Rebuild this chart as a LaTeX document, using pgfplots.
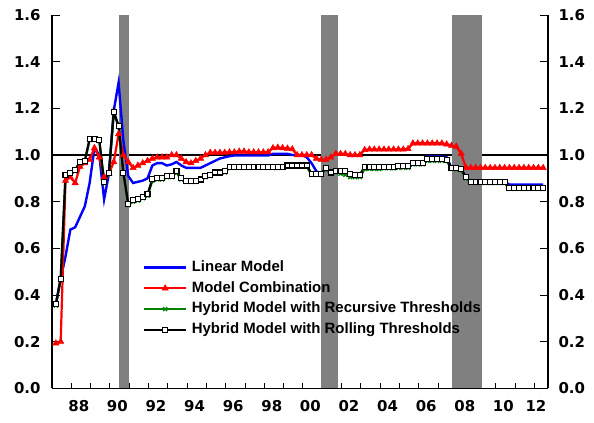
\documentclass[border=0pt]{standalone}
\usepackage{fontspec}
\setmainfont{Liberation Sans}
\newfontfamily\tickfont{DejaVu Sans}
\usepackage{pgfplots}
\usepackage{pgfplotstable}
\pgfplotsset{compat=1.18}
\definecolor{recgray}{RGB}{128,128,128}
\definecolor{dgreen}{RGB}{0,128,0}

\pgfplotstableread{
x lin comb rec roll
1987.20 0.360 0.193 0.355 0.360
1987.45 0.470 0.200 0.470 0.470
1987.70 0.565 0.890 0.910 0.914
1987.95 0.680 0.905 0.920 0.924
1988.20 0.690 0.880 0.930 0.936
1988.45 0.735 0.950 0.965 0.971
1988.70 0.780 0.965 0.970 0.976
1988.95 0.880 0.980 1.065 1.069
1989.20 1.030 1.030 1.065 1.069
1989.45 1.000 0.990 1.060 1.064
1989.70 0.810 0.905 0.880 0.886
1989.95 0.920 0.920 0.920 0.924
1990.20 1.190 0.970 1.180 1.186
1990.45 1.310 1.090 1.120 1.126
1990.70 1.060 1.000 0.920 0.924
1990.95 0.910 0.970 0.785 0.790
1991.20 0.880 0.945 0.800 0.807
1991.45 0.885 0.955 0.805 0.811
1991.70 0.890 0.965 0.815 0.821
1991.95 0.900 0.975 0.825 0.831
1992.20 0.955 0.985 0.890 0.897
1992.45 0.965 0.990 0.895 0.900
1992.70 0.965 0.990 0.895 0.900
1992.95 0.955 0.990 0.905 0.910
1993.20 0.960 1.000 0.905 0.910
1993.45 0.970 1.000 0.925 0.930
1993.70 0.955 0.985 0.895 0.900
1993.95 0.945 0.970 0.885 0.890
1994.20 0.945 0.965 0.885 0.890
1994.45 0.945 0.975 0.885 0.890
1994.70 0.945 0.985 0.890 0.895
1994.95 0.955 1.000 0.905 0.910
1995.20 0.965 1.010 0.910 0.915
1995.45 0.975 1.010 0.920 0.925
1995.70 0.985 1.010 0.920 0.925
1995.95 0.990 1.010 0.925 0.930
1996.20 0.995 1.012 0.945 0.950
1996.45 0.998 1.012 0.945 0.950
1996.70 0.998 1.015 0.945 0.950
1996.95 0.998 1.015 0.945 0.950
1997.20 0.998 1.012 0.945 0.950
1997.45 0.998 1.012 0.945 0.950
1997.70 0.998 1.012 0.945 0.950
1997.95 0.998 1.012 0.945 0.950
1998.20 0.998 1.012 0.945 0.950
1998.45 1.005 1.030 0.945 0.950
1998.70 1.005 1.032 0.945 0.950
1998.95 1.005 1.030 0.945 0.950
1999.20 1.005 1.028 0.950 0.955
1999.45 1.000 1.025 0.950 0.955
1999.70 1.000 1.000 0.950 0.955
1999.95 1.000 1.000 0.950 0.955
2000.20 0.990 1.000 0.950 0.955
2000.45 0.965 1.000 0.915 0.920
2000.70 0.930 0.985 0.915 0.920
2000.95 0.920 0.980 0.915 0.920
2001.20 0.940 0.980 0.940 0.946
2001.45 0.920 0.990 0.920 0.925
2001.70 0.925 1.005 0.925 0.930
2001.95 0.925 1.005 0.920 0.930
2002.20 0.925 1.005 0.915 0.930
2002.45 0.915 1.000 0.905 0.920
2002.70 0.910 1.000 0.905 0.915
2002.95 0.910 1.000 0.905 0.915
2003.20 0.945 1.022 0.940 0.950
2003.45 0.945 1.024 0.940 0.950
2003.70 0.945 1.024 0.940 0.950
2003.95 0.945 1.024 0.940 0.950
2004.20 0.945 1.024 0.943 0.950
2004.45 0.945 1.024 0.943 0.950
2004.70 0.945 1.024 0.943 0.950
2004.95 0.948 1.024 0.945 0.952
2005.20 0.948 1.024 0.945 0.952
2005.45 0.948 1.026 0.945 0.952
2005.70 0.962 1.050 0.960 0.966
2005.95 0.962 1.050 0.960 0.966
2006.20 0.962 1.050 0.960 0.966
2006.45 0.993 1.050 0.975 0.981
2006.70 0.993 1.050 0.975 0.981
2006.95 0.993 1.050 0.975 0.981
2007.20 0.993 1.050 0.975 0.981
2007.45 0.990 1.046 0.975 0.980
2007.70 0.945 1.040 0.940 0.945
2007.95 0.943 1.036 0.938 0.943
2008.20 0.940 1.006 0.935 0.940
2008.45 0.904 0.945 0.900 0.904
2008.70 0.886 0.945 0.880 0.886
2008.95 0.886 0.945 0.880 0.886
2009.20 0.886 0.945 0.880 0.886
2009.45 0.886 0.945 0.880 0.886
2009.70 0.886 0.945 0.880 0.886
2009.95 0.886 0.945 0.880 0.886
2010.20 0.886 0.945 0.880 0.886
2010.45 0.886 0.945 0.880 0.886
2010.70 0.873 0.945 0.855 0.860
2010.95 0.873 0.945 0.855 0.860
2011.20 0.873 0.945 0.855 0.860
2011.45 0.873 0.945 0.855 0.860
2011.70 0.873 0.945 0.855 0.860
2011.95 0.873 0.945 0.855 0.860
2012.20 0.873 0.945 0.855 0.860
2012.45 0.873 0.945 0.855 0.860
}\data

\begin{document}
\begin{tikzpicture}
\path[use as bounding box] (0,0) rectangle (594bp,423bp);
\begin{axis}[
  at={(52bp,34.7bp)}, anchor=south west,
  scale only axis, width=496bp, height=373.3bp,
  xmin=1987, xmax=2012.7, ymin=0, ymax=1.6,
  axis x line*=bottom, axis y line*=left,
  axis line style={line width=1.1bp, -},
  tick align=inside,
  major tick length=8bp,
  tick style={black, line width=0.8bp},
  ytick={0,0.2,0.4,0.6,0.8,1.0,1.2,1.4,1.6},
  xtick={1988,1989,...,2012},
  xticklabels={88,,90,,92,,94,,96,,98,,00,,02,,04,,06,,08,,10,,\hspace*{-12bp}12},
  xtick style={/pgfplots/major tick length=5bp},
  tick label style={font=\fontsize{15}{17}\selectfont\tickfont\bfseries},
  /pgf/number format/assume math mode=true,
  y tick label style={/pgf/number format/fixed, /pgf/number format/fixed zerofill, /pgf/number format/precision=1, xshift=-8bp},
  x tick label style={xshift=7.5bp, yshift=-9bp},
  legend style={at={(0.183,0.352)}, anchor=north west, draw=none, fill=none,
    font=\fontsize{15}{17}\selectfont\bfseries, row sep=0pt, inner sep=0pt,
    nodes={inner ysep=3.4bp, inner xsep=4.5bp, text height=10.8bp, text depth=3.2bp}},
  legend cell align=left,
  legend image code/.code={\draw[mark repeat=2,mark phase=2,#1] plot coordinates {(0bp,0bp) (21bp,0bp) (42bp,0bp)};},
]
\addplot[black, line width=1.3bp, forget plot] coordinates {(1987,1) (2012.7,1)};
\addplot[fill=recgray, draw=none, forget plot] coordinates {(1990.45,1.6) (1991.0,1.6)} \closedcycle;
\addplot[fill=recgray, draw=none, forget plot] coordinates {(2000.95,1.6) (2001.8,1.6)} \closedcycle;
\addplot[fill=recgray, draw=none, forget plot] coordinates {(2007.7,1.6) (2009.3,1.6)} \closedcycle;
\addplot[blue, line width=2.4bp, no marks] table[x=x, y=lin] {\data};
\addlegendentry{Linear Model}
\addplot[red, line width=2.2bp, mark=triangle*, mark size=3.6bp, mark options={solid, fill=red, line width=0.5bp}] table[x=x, y=comb] {\data};
\addlegendentry{Model Combination}
\addplot[dgreen, line width=2.2bp, mark=x, mark size=2.8bp, mark options={solid, line width=1.3bp}] table[x=x, y=rec] {\data};
\addlegendentry{Hybrid Model with Recursive Thresholds}
\addplot[black, line width=2.2bp, mark=square*, mark size=2.5bp, mark options={solid, fill=white, line width=1.1bp}] table[x=x, y=roll] {\data};
\addlegendentry{Hybrid Model with Rolling Thresholds}
\end{axis}
\begin{axis}[
  at={(52bp,34.7bp)}, anchor=south west,
  scale only axis, width=496bp, height=373.3bp,
  xmin=1987, xmax=2012.7, ymin=0, ymax=1.6,
  axis y line*=right, axis x line=none,
  axis line style={line width=1.1bp, -},
  tick align=inside,
  major tick length=8bp,
  tick style={black, line width=0.8bp},
  ytick={0,0.2,0.4,0.6,0.8,1.0,1.2,1.4,1.6},
  tick label style={font=\fontsize{15}{17}\selectfont\tickfont\bfseries},
  /pgf/number format/assume math mode=true,
  y tick label style={/pgf/number format/fixed, /pgf/number format/fixed zerofill, /pgf/number format/precision=1, xshift=7bp},
]
\end{axis}
\end{tikzpicture}
\end{document}
